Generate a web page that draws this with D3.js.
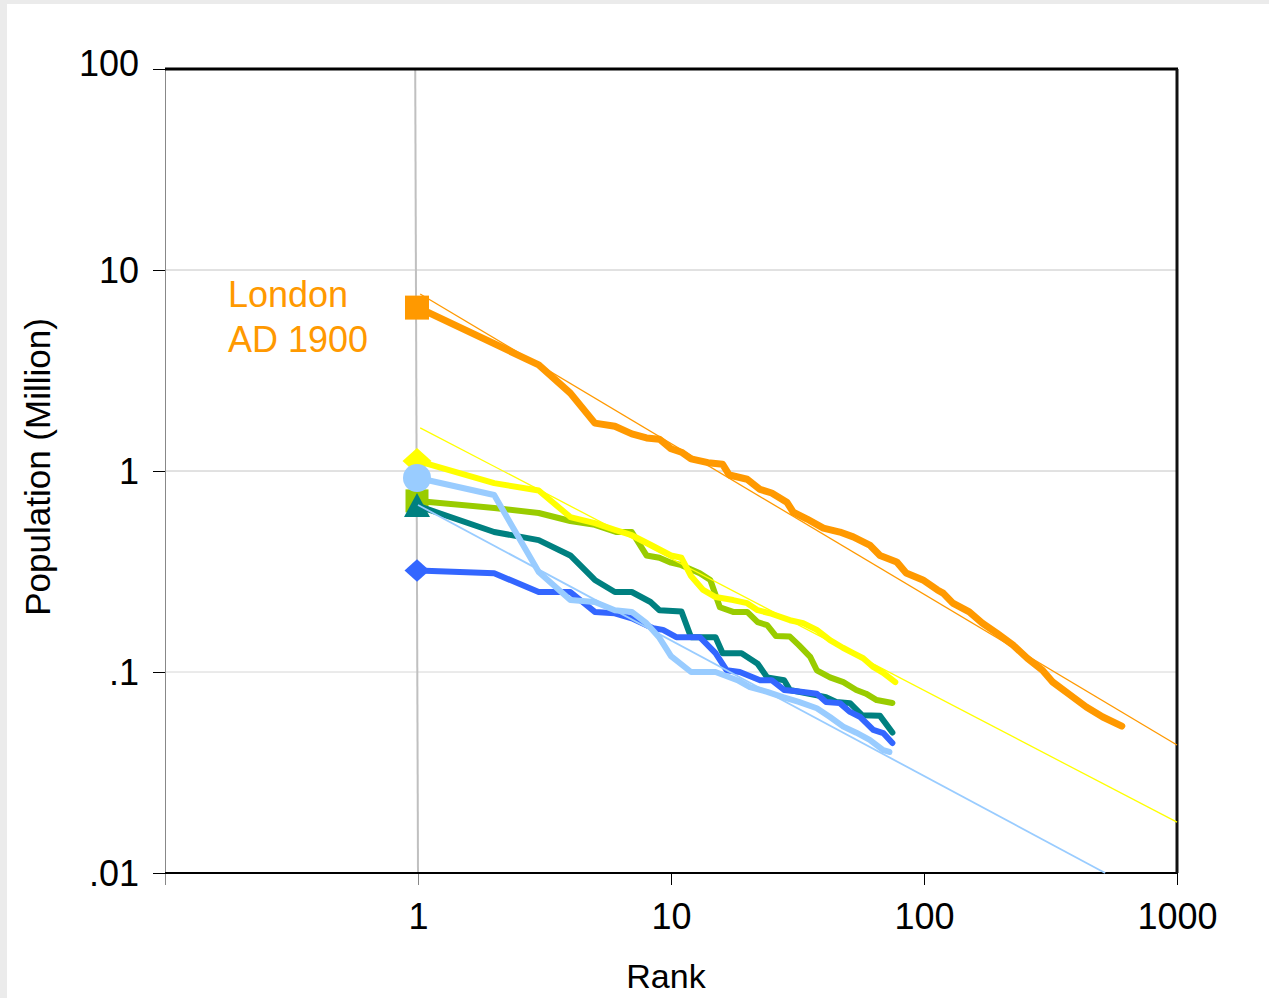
<!DOCTYPE html>
<html>
<head>
<meta charset="utf-8">
<script src="https://cdn.jsdelivr.net/npm/d3@7"></script>
<style>
  body { margin: 0; background: #ebebeb; }
  svg { display: block; font-family: "Liberation Sans", Arial, sans-serif; }
</style>
</head>
<body>
<div id="chart-area"></div>
<script>
// rank-size data, population in millions
const londonRanks = [1, 2, 3, 4, 5, 6, 7, 8, 9, 10, 11, 12, 14, 16, 17, 20, 22.5, 25, 28.7, 30.4, 34.5, 40, 46.5, 52.5, 61, 67, 78, 85, 99, 113, 119, 130, 151, 170, 194, 225, 256, 294, 323, 377, 438, 509, 605];
const londonPop = [6.5, 4.3, 3.37, 2.44, 1.73, 1.67, 1.53, 1.46, 1.44, 1.29, 1.24, 1.15, 1.1, 1.08, 0.955, 0.91, 0.81, 0.777, 0.70, 0.625, 0.577, 0.52, 0.497, 0.47, 0.428, 0.38, 0.353, 0.311, 0.287, 0.256, 0.247, 0.22, 0.199, 0.175, 0.156, 0.136, 0.117, 0.102, 0.089, 0.077, 0.067, 0.0597, 0.0538];

const yellowRanks = [1, 2, 3, 4, 5, 6, 7, 8.3, 10, 11, 12, 13.4, 15, 17.6, 20, 22, 24.6, 29.5, 33.3, 37.7, 42.5, 47.8, 52.5, 57.5, 63, 69, 77];
const yellowPop = [1.12, 0.87, 0.80, 0.59, 0.55, 0.51, 0.48, 0.43, 0.38, 0.37, 0.30, 0.256, 0.236, 0.228, 0.22, 0.203, 0.196, 0.181, 0.175, 0.162, 0.144, 0.132, 0.124, 0.117, 0.106, 0.099, 0.089];

const greenRanks = [1, 2, 3, 4, 5, 6.1, 7, 8, 9, 10, 11, 13, 14.3, 15.6, 17.6, 20, 22, 24, 26, 29.5, 32, 35.5, 37.7, 42.5, 48, 54, 59, 65, 75];
const greenPop = [0.71, 0.655, 0.618, 0.564, 0.54, 0.497, 0.497, 0.38, 0.37, 0.35, 0.34, 0.31, 0.287, 0.21, 0.199, 0.199, 0.177, 0.171, 0.151, 0.15, 0.136, 0.119, 0.102, 0.094, 0.089, 0.0814, 0.078, 0.0725, 0.0701];

const tealRanks = [1, 2, 3, 4, 5, 6, 7, 8.3, 9, 11, 12, 15, 16, 19, 22, 24, 28, 29.5, 41, 45, 51, 57, 67, 75];
const tealPop = [0.67, 0.497, 0.453, 0.38, 0.287, 0.25, 0.25, 0.223, 0.203, 0.2, 0.149, 0.149, 0.124, 0.124, 0.11, 0.094, 0.091, 0.0814, 0.075, 0.071, 0.070, 0.0609, 0.0605, 0.050];

const blueRanks = [1, 2, 3, 4, 5, 6, 7, 8.5, 9.3, 10.5, 13, 15, 16.6, 18.7, 22.5, 25, 28, 32, 37.7, 41, 46.5, 51, 56, 63, 69, 75];
const bluePop = [0.32, 0.31, 0.25, 0.25, 0.199, 0.196, 0.185, 0.165, 0.162, 0.149, 0.149, 0.124, 0.102, 0.1, 0.091, 0.091, 0.0814, 0.08, 0.078, 0.071, 0.070, 0.0633, 0.0597, 0.0515, 0.0497, 0.0443];

const skyRanks = [1, 2, 3, 4, 5, 6, 7, 8, 9, 10, 12, 15, 18.3, 20.5, 24, 27.7, 32, 37.7, 42.5, 48, 54, 61, 69, 73];
const skyPop = [0.923, 0.76, 0.314, 0.228, 0.223, 0.203, 0.199, 0.175, 0.148, 0.12, 0.1, 0.1, 0.091, 0.084, 0.0797, 0.075, 0.071, 0.066, 0.0597, 0.0535, 0.0499, 0.046, 0.0409, 0.04];

// fitted power-law lines: [start rank, end rank], [start pop, end pop]
const londonFitRanks = [1.02, 1000];
const londonFitPop = [7.6, 0.0433];
const yellowFitRanks = [1.02, 1000];
const yellowFitPop = [1.64, 0.0179];
const skyFitRanks = [1, 520];
const skyFitPop = [0.678, 0.01];

// grey reference line at rank one
const rankOneRanks = [0.975, 1];
const rankOnePop = [100, 0.01];

const xTicks = [0.1, 1, 10, 100, 1000];
const xTickLabels = ["", "1", "10", "100", "1000"];
const yTicks = [0.01, 0.1, 1, 10, 100];
const yTickLabels = [".01", ".1", "1", "10", "100"];
const gridValues = [0.1, 1, 10];

const W = 1269, H = 998;
const plot = { left: 165, right: 1177, top: 69, bottom: 873 };

const svg = d3.select("#chart-area").append("svg")
    .attr("width", W)
    .attr("height", H);

svg.append("rect").attr("width", W).attr("height", H).attr("fill", "#ebebeb");
svg.append("rect").attr("x", 7).attr("y", 4).attr("width", W - 7).attr("height", H - 4).attr("fill", "#fff");

const x = d3.scaleLog().domain([0.1, 1000]).range([plot.left, plot.right]);
const y = d3.scaleLog().domain([0.01, 100]).range([plot.bottom, plot.top]);

const zip = (xs, ys) => xs.map((r, i) => ({ rank: r, pop: ys[i] }));
const line = d3.line().x(d => x(d.rank)).y(d => y(d.pop));

// gridlines
svg.append("g").selectAll("line").data(gridValues).join("line")
    .attr("x1", plot.left).attr("x2", plot.right)
    .attr("y1", d => y(d)).attr("y2", d => y(d))
    .attr("stroke", d => d === 0.1 ? "#d6d6d6" : "#c4c4c4")
    .attr("stroke-width", 1);

svg.append("path")
    .attr("d", line(zip(rankOneRanks, rankOnePop)))
    .attr("stroke", "#c0c0c0").attr("stroke-width", 2).attr("fill", "none");

// axes
const yAxis = svg.append("g")
    .attr("transform", `translate(${plot.left},0)`)
    .call(d3.axisLeft(y).tickValues(yTicks)
        .tickFormat((d, i) => yTickLabels[i]).tickSize(12).tickPadding(14));
yAxis.select(".domain").attr("stroke", "#888");
yAxis.selectAll(".tick line").attr("stroke", "#000");
yAxis.selectAll("text").attr("font-size", 36).attr("fill", "#000")
    .attr("font-family", "Liberation Sans, Arial, sans-serif")
    .attr("y", d => d === 100 ? -5 : 1);

const xAxis = svg.append("g")
    .attr("transform", `translate(0,${plot.bottom})`)
    .call(d3.axisBottom(x).tickValues(xTicks)
        .tickFormat((d, i) => xTickLabels[i]).tickSize(12).tickPadding(18));
xAxis.select(".domain").remove();
xAxis.selectAll(".tick line").attr("stroke", (d, i) => i < 2 ? "#888" : "#000");
xAxis.selectAll("text").attr("font-size", 36).attr("fill", "#000")
    .attr("font-family", "Liberation Sans, Arial, sans-serif");

// frame
svg.append("line").attr("x1", plot.left).attr("x2", plot.right + 1)
    .attr("y1", plot.bottom).attr("y2", plot.bottom)
    .attr("stroke", "#000").attr("stroke-width", 2);
svg.append("line").attr("x1", plot.left).attr("x2", plot.right + 1)
    .attr("y1", plot.top).attr("y2", plot.top)
    .attr("stroke", "#000").attr("stroke-width", 3);
svg.append("line").attr("x1", plot.right).attr("x2", plot.right)
    .attr("y1", plot.top).attr("y2", plot.bottom)
    .attr("stroke", "#111").attr("stroke-width", 3);

// axis titles
svg.append("text")
    .attr("x", (x(1) + x(100)) / 2 - 5).attr("y", 988)
    .attr("text-anchor", "middle").attr("font-size", 34)
    .text("Rank");
svg.append("text")
    .attr("transform", "translate(50,467) rotate(-90)")
    .attr("text-anchor", "middle").attr("font-size", 35)
    .text("Population (Million)");

// series
const series = [
    { ranks: greenRanks, pop: greenPop, color: "#99cc00", width: 6, marker: "square", size: 23 },
    { ranks: tealRanks, pop: tealPop, color: "#008080", width: 6, marker: "triangle", size: 26 },
    { ranks: yellowRanks, pop: yellowPop, color: "#ffff00", width: 6, marker: "diamond", size: 29 },
    { ranks: blueRanks, pop: bluePop, color: "#3366ff", width: 6, marker: "diamond", size: 25 },
    { ranks: skyRanks, pop: skyPop, color: "#99ccff", width: 6, marker: "circle", size: 28 },
    { ranks: londonRanks, pop: londonPop, color: "#ff9900", width: 7, marker: "square", size: 24 }
];

const lines = svg.append("g");
series.forEach(s => {
    const pts = zip(s.ranks, s.pop);
    lines.append("path")
        .attr("d", line(pts))
        .attr("fill", "none")
        .attr("stroke", s.color)
        .attr("stroke-width", s.width)
        .attr("stroke-linejoin", "round")
        .attr("stroke-linecap", "round");

    const p0 = pts[0];
    const cx = x(p0.rank) - 1, cy = y(p0.pop);
    const h = s.size / 2;
    const m = lines.append("path").attr("fill", s.color);
    if (s.marker === "square") {
        m.attr("d", `M${cx - h},${cy - h}h${s.size}v${s.size}h${-s.size}Z`);
    } else if (s.marker === "diamond") {
        m.attr("d", `M${cx},${cy - h * 0.9}L${cx + h},${cy}L${cx},${cy + h * 0.9}L${cx - h},${cy}Z`);
    } else if (s.marker === "triangle") {
        m.attr("d", `M${cx},${cy - h}L${cx + h},${cy + h * 0.85}L${cx - h},${cy + h * 0.85}Z`);
    } else {
        m.attr("d", d3.symbol(d3.symbolCircle, Math.PI * h * h)()).attr("transform", `translate(${cx},${cy})`);
    }
});

// fitted lines on top
const fits = [
    { ranks: londonFitRanks, pop: londonFitPop, color: "#ff9900" },
    { ranks: yellowFitRanks, pop: yellowFitPop, color: "#ffff00" },
    { ranks: skyFitRanks, pop: skyFitPop, color: "#99ccff" }
];
svg.append("g").selectAll("path").data(fits).join("path")
    .attr("d", d => line(zip(d.ranks, d.pop)))
    .attr("fill", "none")
    .attr("stroke", d => d.color)
    .attr("stroke-width", d => d.color === "#99ccff" ? 1.8 : 1.3);

// label for the London series
const note = svg.append("text")
    .attr("fill", "#ff9900").attr("font-size", 36);
note.append("tspan").attr("x", 228).attr("y", 307).text("London");
note.append("tspan").attr("x", 228).attr("y", 352).text("AD 1900");
</script>
</body>
</html>
